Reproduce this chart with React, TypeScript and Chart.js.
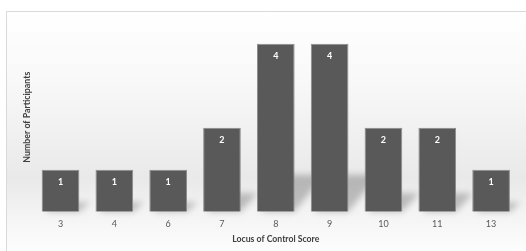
import React, { useEffect, useRef } from "react";
import { Chart, registerables } from "chart.js";

Chart.register(...registerables);

const categories = ["3", "4", "6", "7", "8", "9", "10", "11", "13"];
const participants = [1, 1, 1, 2, 4, 4, 2, 2, 1];
const xTitle = "Locus of Control Score";
const yTitle = "Number of Participants";

const FONT = "Lato, 'Open Sans', 'DejaVu Sans', sans-serif";

const backgroundPlugin = {
  id: "bgBox",
  beforeDraw(chart: any) {
    const { ctx, width, height } = chart;
    ctx.save();
    ctx.fillStyle = "#ffffff";
    ctx.fillRect(0, 0, width, height);
    const top = 11;
    const g = ctx.createLinearGradient(0, top, 0, height);
    g.addColorStop(0, "#ffffff");
    g.addColorStop(0.3, "#f8f8f8");
    g.addColorStop(0.7, "#e9e9e9");
    g.addColorStop(0.85, "#f4f4f4");
    g.addColorStop(1, "#fdfdfd");
    ctx.fillStyle = g;
    ctx.fillRect(7, top, width, height);
    ctx.strokeStyle = "#d9d9d9";
    ctx.lineWidth = 1;
    ctx.beginPath();
    ctx.moveTo(6.5, height + 2);
    ctx.lineTo(6.5, top + 0.5);
    ctx.lineTo(width + 2, top + 0.5);
    ctx.stroke();
    ctx.restore();
  },
  beforeDatasetsDraw(chart: any) {
    const { ctx } = chart;
    const meta = chart.getDatasetMeta(0);
    ctx.save();
    ctx.filter = "blur(3px)";
    ctx.fillStyle = "rgba(0,0,0,0.22)";
    meta.data.forEach((el: any) => {
      const half = el.width / 2;
      const left = el.x - half;
      const right = el.x + half;
      const bottom = el.base;
      const h = el.base - el.y;
      const off = h * 0.15 + 4;
      const sh = h * 0.22;
      ctx.beginPath();
      ctx.moveTo(left + 4, bottom);
      ctx.lineTo(right, bottom);
      ctx.lineTo(right + off, bottom - sh);
      ctx.lineTo(left + off, bottom - sh);
      ctx.closePath();
      ctx.fill();
    });
    ctx.restore();
  },
  afterDatasetsDraw(chart: any) {
    const { ctx } = chart;
    const meta = chart.getDatasetMeta(0);
    const data = chart.data.datasets[0].data;
    ctx.save();
    ctx.fillStyle = "#ffffff";
    ctx.font = `bold 9px ${FONT}`;
    ctx.textAlign = "center";
    ctx.textBaseline = "middle";
    meta.data.forEach((el: any, i: number) => {
      ctx.fillText(String(data[i]), el.x, el.y + 12);
    });
    ctx.restore();
  },
};

export default function App() {
  const ref = useRef<HTMLCanvasElement | null>(null);
  useEffect(() => {
    if (!ref.current) return;
    const chart = new Chart(ref.current, {
      type: "bar",
      data: {
        labels: categories,
        datasets: [
          {
            data: participants,
            backgroundColor: "#595959",
            borderColor: "#8c8c8c",
            borderWidth: 1,
            categoryPercentage: 1,
            barPercentage: 0.7,
          },
        ],
      },
      options: {
        animation: false,
        responsive: false,
        maintainAspectRatio: false,
        layout: { padding: { left: 18, right: 8, top: 22.7, bottom: 5.9 } },
        plugins: {
          legend: { display: false },
          tooltip: { enabled: false },
        },
        scales: {
          x: {
            grid: { display: false, drawTicks: false },
            border: { display: false },
            ticks: { color: "#595959", font: { family: FONT, size: 9 }, padding: 7 },
            title: {
              display: true,
              text: xTitle,
              color: "#404040",
              font: { family: FONT, size: 8.7, weight: "bold" },
              padding: { top: 4, bottom: 1 },
            },
            afterFit(scale: any) {
              scale.height = 33.4;
            },
          },
          y: {
            min: 0,
            max: 4.5,
            grid: { display: false, drawTicks: false },
            border: { display: false },
            ticks: { display: false },
            title: {
              display: true,
              text: yTitle,
              color: "#404040",
              font: { family: FONT, size: 8.8, weight: "bold" },
              padding: { top: 4, bottom: 2 },
            },
            afterFit(scale: any) {
              scale.width = 15.6;
            },
          },
        },
      },
      plugins: [backgroundPlugin],
    });
    return () => chart.destroy();
  }, []);
  return (
    <div style={{ position: "fixed", left: 0, top: 0, width: 526, height: 251 }}>
      <canvas ref={ref} width={526} height={251} style={{ width: 526, height: 251, display: "block" }} />
    </div>
  );
}
